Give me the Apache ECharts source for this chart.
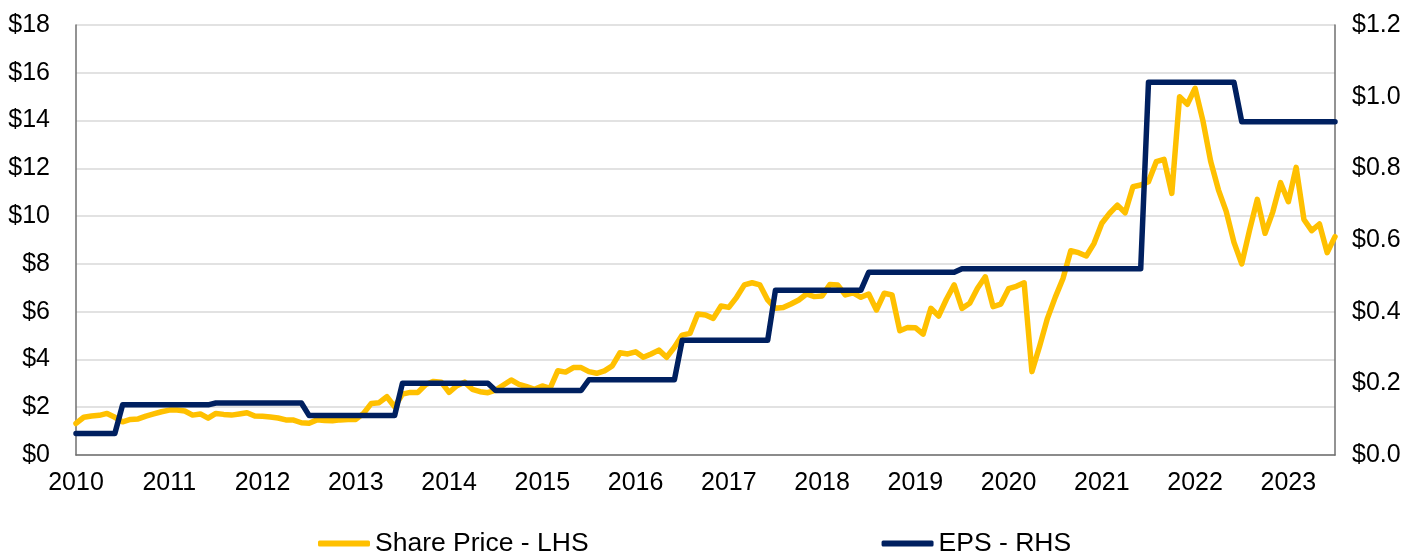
<!DOCTYPE html>
<html>
<head>
<meta charset="utf-8">
<script src="https://cdn.jsdelivr.net/npm/echarts@6/dist/echarts.min.js"></script>
<style>
html,body{margin:0;padding:0;background:#fff;}
#chart{width:1424px;height:554px;}
</style>
</head>
<body>
<div id="chart"></div>
<script>
// Monthly categories Jan 2010 .. Jul 2023
const startYear = 2010;
const monthCount = 163;
const months = [];
for (let i = 0; i < monthCount; i++) {
  const y = startYear + Math.floor(i / 12);
  const m = (i % 12) + 1;
  months.push(y + '-' + (m < 10 ? '0' + m : m));
}

// Share price (LHS, $)
const sharePrice = [
  1.32, 1.58, 1.63, 1.66, 1.74, 1.58, 1.39, 1.49, 1.51, 1.63, 1.72, 1.81,
  1.88, 1.88, 1.84, 1.67, 1.72, 1.54, 1.74, 1.70, 1.67, 1.72, 1.77, 1.63,
  1.62, 1.59, 1.55, 1.47, 1.46, 1.35, 1.33, 1.47, 1.44, 1.43, 1.47, 1.49,
  1.49, 1.74, 2.16, 2.19, 2.44, 2.02, 2.55, 2.62, 2.62, 2.95, 3.08, 3.05,
  2.62, 2.90, 3.05, 2.75, 2.65, 2.61, 2.72, 2.93, 3.14, 2.96, 2.86, 2.75,
  2.89, 2.79, 3.53, 3.47, 3.66, 3.66, 3.49, 3.42, 3.52, 3.73, 4.28, 4.23,
  4.32, 4.09, 4.23, 4.39, 4.09, 4.51, 5.02, 5.09, 5.90, 5.86, 5.72, 6.24,
  6.18, 6.60, 7.12, 7.21, 7.12, 6.49, 6.14, 6.17, 6.32, 6.49, 6.74, 6.63,
  6.66, 7.14, 7.12, 6.70, 6.79, 6.60, 6.74, 6.07, 6.77, 6.70, 5.20, 5.34,
  5.33, 5.06, 6.14, 5.82, 6.52, 7.12, 6.14, 6.35, 6.98, 7.46, 6.21, 6.32,
  6.96, 7.06, 7.21, 3.49, 4.56, 5.72, 6.60, 7.39, 8.55, 8.47, 8.33, 8.86,
  9.70, 10.12, 10.46, 10.14, 11.23, 11.30, 11.44, 12.28, 12.38, 10.95, 15.00, 14.68,
  15.35, 14.00, 12.30, 11.10, 10.20, 8.90, 8.00, 9.40, 10.70, 9.28, 10.18, 11.40,
  10.60, 12.04, 9.86, 9.39, 9.67, 8.47, 9.14
];

// EPS (RHS, $)
const eps = [
  0.06, 0.06, 0.06, 0.06, 0.06, 0.06, 0.14, 0.14, 0.14, 0.14, 0.14, 0.14,
  0.14, 0.14, 0.14, 0.14, 0.14, 0.14, 0.145, 0.145, 0.145, 0.145, 0.145, 0.145,
  0.145, 0.145, 0.145, 0.145, 0.145, 0.145, 0.11, 0.11, 0.11, 0.11, 0.11, 0.11,
  0.11, 0.11, 0.11, 0.11, 0.11, 0.11, 0.20, 0.20, 0.20, 0.20, 0.20, 0.20,
  0.20, 0.20, 0.20, 0.20, 0.20, 0.20, 0.18, 0.18, 0.18, 0.18, 0.18, 0.18,
  0.18, 0.18, 0.18, 0.18, 0.18, 0.18, 0.21, 0.21, 0.21, 0.21, 0.21, 0.21,
  0.21, 0.21, 0.21, 0.21, 0.21, 0.21, 0.32, 0.32, 0.32, 0.32, 0.32, 0.32,
  0.32, 0.32, 0.32, 0.32, 0.32, 0.32, 0.46, 0.46, 0.46, 0.46, 0.46, 0.46,
  0.46, 0.46, 0.46, 0.46, 0.46, 0.46, 0.51, 0.51, 0.51, 0.51, 0.51, 0.51,
  0.51, 0.51, 0.51, 0.51, 0.51, 0.51, 0.52, 0.52, 0.52, 0.52, 0.52, 0.52,
  0.52, 0.52, 0.52, 0.52, 0.52, 0.52, 0.52, 0.52, 0.52, 0.52, 0.52, 0.52,
  0.52, 0.52, 0.52, 0.52, 0.52, 0.52, 1.04, 1.04, 1.04, 1.04, 1.04, 1.04,
  1.04, 1.04, 1.04, 1.04, 1.04, 1.04, 0.93, 0.93, 0.93, 0.93, 0.93, 0.93,
  0.93, 0.93, 0.93, 0.93, 0.93, 0.93, 0.93
];

const seriesNames = ['Share Price - LHS', 'EPS - RHS'];
const leftTicks = { min: 0, max: 18, interval: 2 };
const rightTicks = { min: 0, max: 1.2, interval: 0.2 };

const FONT = "'Liberation Sans', Arial, sans-serif";
const chart = echarts.init(document.getElementById('chart'), null, { renderer: 'canvas' });
chart.setOption({
  animation: false,
  backgroundColor: '#ffffff',
  textStyle: { fontFamily: FONT },
  grid: { left: 76, right: 89, top: 25, bottom: 99, containLabel: false },
  legend: {
    data: seriesNames,
    left: 318,
    top: 530,
    padding: 0,
    itemGap: 293,
    itemWidth: 52,
    itemHeight: 6,
    icon: 'roundRect',
    textStyle: { fontFamily: FONT, fontSize: 26.5, color: '#000', padding: [0, 0, 0, 0] }
  },
  xAxis: {
    type: 'category',
    data: months,
    boundaryGap: false,
    axisLine: { show: true, lineStyle: { color: '#6f6f6f', width: 1.5 } },
    axisTick: { show: false },
    axisLabel: {
      interval: 11,
      margin: 16,
      fontFamily: FONT,
      fontSize: 25,
      color: '#000',
      formatter: function (v) { return v.slice(0, 4); }
    },
    splitLine: { show: false }
  },
  yAxis: [
    {
      type: 'value',
      min: leftTicks.min, max: leftTicks.max, interval: leftTicks.interval,
      axisLine: { show: true, lineStyle: { color: '#6f6f6f', width: 1.5 } },
      axisTick: { show: false },
      axisLabel: {
        margin: 26, fontFamily: FONT, fontSize: 25, color: '#000',
        formatter: function (v) { return '$' + v; }
      },
      splitLine: { show: true, lineStyle: { color: '#d9d9d9', width: 1.5 } }
    },
    {
      type: 'value',
      min: rightTicks.min, max: rightTicks.max, interval: rightTicks.interval,
      position: 'right',
      axisLine: { show: true, lineStyle: { color: '#6f6f6f', width: 1.5 } },
      axisTick: { show: false },
      axisLabel: {
        margin: 17, fontFamily: FONT, fontSize: 25, color: '#000',
        formatter: function (v) { return '$' + v.toFixed(1); }
      },
      splitLine: { show: false }
    }
  ],
  series: [
    {
      name: seriesNames[0],
      type: 'line',
      yAxisIndex: 0,
      data: sharePrice,
      showSymbol: false,
      symbol: 'none',
      lineStyle: { color: '#FFC000', width: 5.5, join: 'round', cap: 'round' },
      itemStyle: { color: '#FFC000' },
      z: 2
    },
    {
      name: seriesNames[1],
      type: 'line',
      yAxisIndex: 1,
      data: eps,
      showSymbol: false,
      symbol: 'none',
      lineStyle: { color: '#002060', width: 5.5, join: 'round', cap: 'round' },
      itemStyle: { color: '#002060' },
      z: 3
    }
  ]
});
</script>
</body>
</html>
